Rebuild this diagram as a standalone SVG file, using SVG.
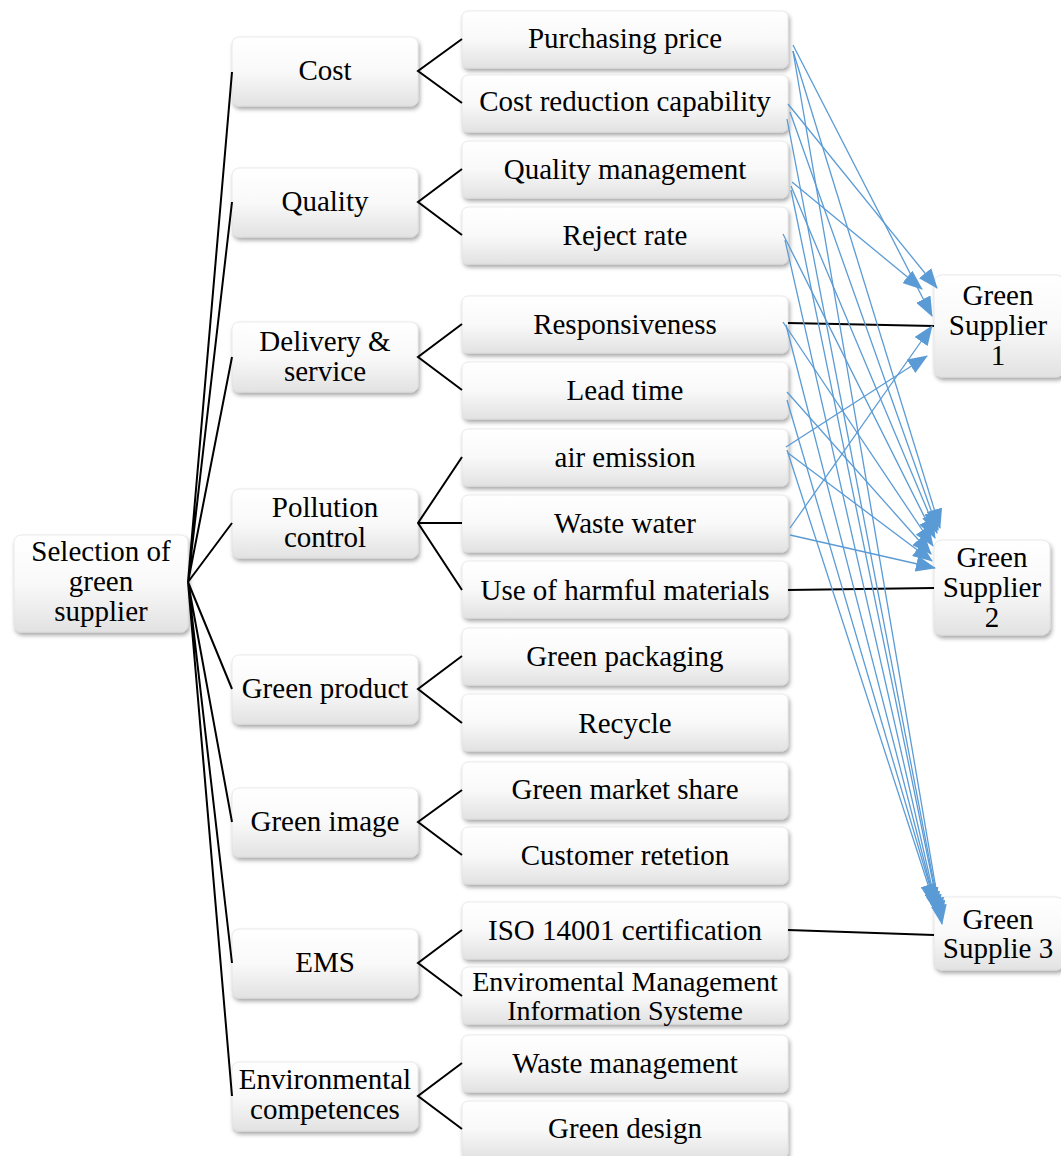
<svg xmlns="http://www.w3.org/2000/svg" width="1061" height="1156" viewBox="0 0 1061 1156" font-family="'Liberation Serif', 'DejaVu Serif', 'Times New Roman', serif">
<defs>
<linearGradient id="g" x1="0" y1="0" x2="0" y2="1">
<stop offset="0" stop-color="#ffffff"/>
<stop offset="0.5" stop-color="#f9f9f9"/>
<stop offset="1" stop-color="#e2e2e2"/>
</linearGradient>
<filter id="sh" x="-10%" y="-10%" width="125%" height="140%">
<feDropShadow dx="1.5" dy="3" stdDeviation="2" flood-color="#000" flood-opacity="0.35"/>
</filter>
<marker id="ar" markerUnits="userSpaceOnUse" viewBox="0 0 20 16" markerWidth="20" markerHeight="16" refX="19" refY="8" orient="auto">
<path d="M0,0 L20,8 L0,16 z" fill="#5b9bd5"/>
</marker>
</defs>
<style>
.box{fill:url(#g);stroke:#dcdcdc;stroke-width:0.6;filter:url(#sh)}
text{font-family:'Liberation Serif','DejaVu Serif','Times New Roman',serif;font-size:29px;fill:#000;text-anchor:middle}
.sm{font-size:28px}
.k{stroke:#000;stroke-width:2;fill:none}
.b{stroke:#5b9bd5;stroke-width:1.3;fill:none;marker-end:url(#ar)}
</style>
<g id="root"><rect class="box" x="14" y="535" width="174" height="97" rx="7"/><text x="101" y="561">Selection of</text><text x="101" y="591">green</text><text x="101" y="621">supplier</text></g>
<g id="cost"><rect class="box" x="232" y="37" width="186" height="69" rx="7"/><text x="325" y="80">Cost</text></g>
<g id="quality"><rect class="box" x="232" y="168" width="186" height="69" rx="7"/><text x="325" y="211">Quality</text></g>
<g id="delivery"><rect class="box" x="232" y="322" width="186" height="70" rx="7"/><text x="325" y="351">Delivery &amp;</text><text x="325" y="381">service</text></g>
<g id="pollution"><rect class="box" x="232" y="489" width="186" height="69" rx="7"/><text x="325" y="517">Pollution</text><text x="325" y="547">control</text></g>
<g id="greenproduct"><rect class="box" x="232" y="655" width="186" height="69" rx="7"/><text x="325" y="698">Green product</text></g>
<g id="greenimage"><rect class="box" x="232" y="788" width="186" height="69" rx="7"/><text x="325" y="831">Green image</text></g>
<g id="ems"><rect class="box" x="232" y="929" width="186" height="69" rx="7"/><text x="325" y="972">EMS</text></g>
<g id="envcomp"><rect class="box" x="232" y="1062" width="186" height="69" rx="7"/><text x="325" y="1089">Environmental</text><text x="325" y="1119">competences</text></g>
<g id="pp"><rect class="box" x="462" y="11" width="326" height="57" rx="6"/><text x="625" y="48">Purchasing price</text></g>
<g id="crc"><rect class="box" x="462" y="75" width="326" height="57" rx="6"/><text x="625" y="111">Cost reduction capability</text></g>
<g id="qm"><rect class="box" x="462" y="141" width="326" height="57" rx="6"/><text x="625" y="179">Quality management</text></g>
<g id="rr"><rect class="box" x="462" y="207" width="326" height="57" rx="6"/><text x="625" y="245">Reject rate</text></g>
<g id="resp"><rect class="box" x="462" y="296" width="326" height="57" rx="6"/><text x="625" y="334">Responsiveness</text></g>
<g id="lt"><rect class="box" x="462" y="362" width="326" height="57" rx="6"/><text x="625" y="400">Lead time</text></g>
<g id="ae"><rect class="box" x="462" y="429" width="326" height="57" rx="6"/><text x="625" y="467">air emission</text></g>
<g id="ww"><rect class="box" x="462" y="495" width="326" height="57" rx="6"/><text x="625" y="533">Waste water</text></g>
<g id="uhm"><rect class="box" x="462" y="561" width="326" height="57" rx="6"/><text x="625" y="600">Use of harmful materials</text></g>
<g id="gp"><rect class="box" x="462" y="628" width="326" height="57" rx="6"/><text x="625" y="666">Green packaging</text></g>
<g id="rec"><rect class="box" x="462" y="694" width="326" height="57" rx="6"/><text x="625" y="733">Recycle</text></g>
<g id="gms"><rect class="box" x="462" y="762" width="326" height="57" rx="6"/><text x="625" y="799">Green market share</text></g>
<g id="cret"><rect class="box" x="462" y="827" width="326" height="57" rx="6"/><text x="625" y="865">Customer retetion</text></g>
<g id="iso"><rect class="box" x="462" y="902" width="326" height="57" rx="6"/><text x="625" y="940">ISO 14001 certification</text></g>
<g id="emis"><rect class="box" x="462" y="967" width="326" height="57" rx="6"/><text class="sm" x="625" y="991">Enviromental Management</text><text class="sm" x="625" y="1020">Information Systeme</text></g>
<g id="wm"><rect class="box" x="462" y="1035" width="326" height="57" rx="6"/><text x="625" y="1073">Waste management</text></g>
<g id="gd"><rect class="box" x="462" y="1101" width="326" height="57" rx="6"/><text x="625" y="1138">Green design</text></g>
<g id="s1"><rect class="box" x="934" y="275" width="130" height="102" rx="8"/><text x="998" y="305">Green</text><text x="998" y="335">Supplier</text><text x="998" y="365">1</text></g>
<g id="s2"><rect class="box" x="934" y="540" width="116" height="95" rx="8"/><text x="992" y="567">Green</text><text x="992" y="597">Supplier</text><text x="992" y="627">2</text></g>
<g id="s3"><rect class="box" x="934" y="897" width="130" height="73" rx="8"/><text x="998" y="929">Green</text><text x="998" y="958">Supplie 3</text></g>
<g id="connectors">
<path class="k" d="M188,582 L232,72 M188,582 L232,202 M188,582 L232,357 M188,582 L232,523 M188,582 L232,689 M188,582 L232,822 M188,582 L232,963 M188,582 L232,1096"/>
<path class="k" d="M462,39 L418,71 L462,103 M462,169 L418,202 L462,235 M462,324 L418,357 L462,390 M462,457 L418,523 L462,590 M418,523 L462,523 M462,656 L418,689 L462,723 M462,790 L418,822 L462,855 M462,930 L418,963 L462,996 M462,1063 L418,1096 L462,1129"/>
<path class="k" d="M788,323 L934,326 M788,590 L934,588 M788,930 L934,935"/>
<line class="b" x1="793" y1="45" x2="932" y2="316"/>
<line class="b" x1="788" y1="104" x2="937" y2="288"/>
<line class="b" x1="792" y1="182" x2="922" y2="289"/>
<line class="b" x1="786" y1="447" x2="927" y2="356"/>
<line class="b" x1="790" y1="528" x2="932" y2="326"/>
<line class="b" x1="793" y1="51" x2="940" y2="528"/>
<line class="b" x1="790" y1="112" x2="938" y2="530"/>
<line class="b" x1="791" y1="186" x2="937" y2="533"/>
<line class="b" x1="783" y1="234" x2="935" y2="538"/>
<line class="b" x1="783" y1="322" x2="933" y2="546"/>
<line class="b" x1="787" y1="392" x2="931" y2="554"/>
<line class="b" x1="788" y1="453" x2="932" y2="561"/>
<line class="b" x1="790" y1="535" x2="935" y2="568"/>
<line class="b" x1="787" y1="450" x2="934" y2="903"/>
<line class="b" x1="787" y1="400" x2="936" y2="907"/>
<line class="b" x1="786" y1="325" x2="937" y2="911"/>
<line class="b" x1="785" y1="240" x2="938" y2="914"/>
<line class="b" x1="791" y1="190" x2="940" y2="917"/>
<line class="b" x1="787" y1="119" x2="941" y2="920"/>
<line class="b" x1="793" y1="51" x2="942" y2="924"/>
</g>
</svg>
